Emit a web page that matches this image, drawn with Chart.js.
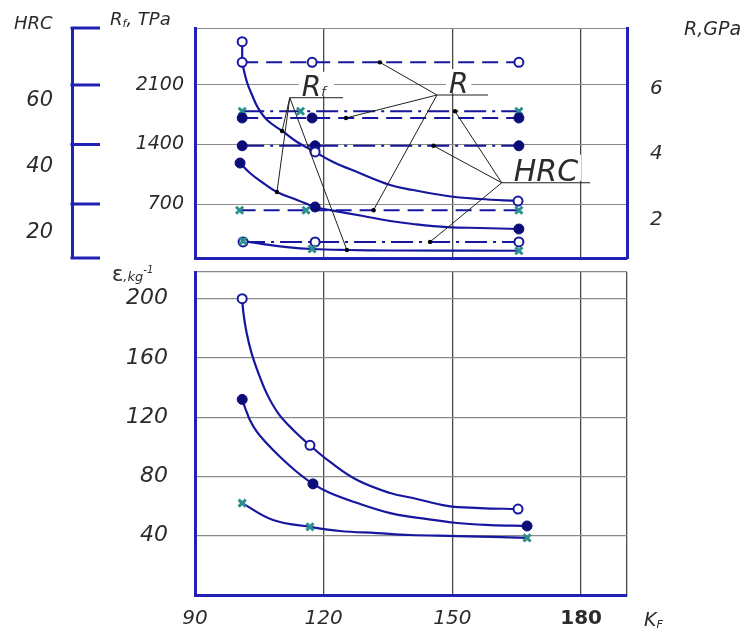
<!DOCTYPE html>
<html>
<head>
<meta charset="utf-8">
<script src="https://cdn.jsdelivr.net/npm/chart.js@4.4.1/dist/chart.umd.min.js"></script>
<style>
  html, body { margin: 0; padding: 0; background: #fff; }
  #wrap { position: relative; width: 750px; height: 630px; font-family: 'DejaVu Sans', sans-serif; font-style: italic; color: #2b2b2b; }
  #top { position: absolute; left: 0; top: 0; }
  #bottom { position: absolute; left: 0; top: 262px; }
  .lbl { position: absolute; font-size: 18px; line-height: 1; white-space: nowrap; }
  .lbl sub { font-size: 11px; vertical-align: -2px; }
  .lbl sup { font-size: 10px; vertical-align: 8px; }
</style>
</head>
<body>
<div id="wrap">
  <canvas id="top" width="750" height="262"></canvas>
  <canvas id="bottom" width="750" height="368"></canvas>
  <div class="lbl" style="left:14px;top:14px">HRC</div>
  <div class="lbl" style="left:110px;top:10px">R<sub>f</sub>, TPa</div>
  <div class="lbl" style="left:684px;top:19px;font-size:19px">R,GPa</div>
  <div class="lbl" style="left:112px;top:264px"><span style="font-size:21px;font-style:normal">ε</span><span style="font-size:13px">,kg</span><sup>-1</sup></div>
  <div class="lbl" style="left:644px;top:610px;font-size:19px">K<sub>F</sub></div>
</div>
<script>
// ---- axis ticks ----
const xTicks = [90, 120, 150, 180];
const rfTicks = [700, 1400, 2100];
const hrcTicks = [20, 40, 60];
const rTicks = [2, 4, 6];
const epsTicks = [40, 80, 120, 160, 200];

// ---- upper panel: R, GPa (dashed lines) ----
const rOpenK = [101, 117.3, 165.5];
const rOpen = [6.8, 6.8, 6.8];
const rFilledK = [101, 117.3, 165.5];
const rFilled = [5.1, 5.1, 5.1];
const rCrossK = [100.4, 115.9, 165.5];
const rCross = [2.28, 2.28, 2.28];

// ---- upper panel: HRC (dash-dot lines) ----
const hrcCrossK = [101, 114.6, 165.5];
const hrcCross = [56.8, 56.8, 56.8];
const hrcFilledK = [101, 118, 165.5];
const hrcFilled = [46.3, 46.3, 46.3];
const hrcOpenK = [101.2, 118, 165.5];
const hrcOpen = [17.1, 17.1, 17.1];

// ---- upper panel: Rf, TPa (curves) ----
const rfOpenPtK = [101, 118, 165.3];
const rfOpenPt = [2609, 1312, 735];
const rfOpenK = [101, 102.1, 103.3, 104.7, 106.8, 110.3, 113.8, 118, 122.2, 127.8, 135.5, 140.8, 148.8, 156.4, 165.3];
const rfOpen = [2359, 2135, 1982, 1829, 1688, 1559, 1429, 1312, 1194, 1076, 924, 865, 794, 759, 735];
const rfFilledPtK = [100.5, 118, 165.5];
const rfFilledPt = [1182, 665, 406];
const rfFilledK = [100.5, 102.8, 105.9, 109.1, 113.8, 118, 121.5, 129.2, 135.5, 140.8, 148.8, 156.4, 165.5];
const rfFilled = [1182, 1065, 947, 841, 747, 665, 629, 559, 500, 465, 429, 418, 406];
const rfCrossPtK = [101.2, 117.3, 165.5];
const rfCrossPt = [265, 171, 150];
const rfCrossK = [101.2, 105.9, 111.4, 117.3, 125.4, 135.5, 165.5];
const rfCross = [265, 229, 194, 171, 159, 153, 150];

// ---- lower panel: epsilon, kg^-1 ----
const epsOpenPtK = [101, 116.8, 165.3];
const epsOpenPt = [200, 101, 58];
const epsOpenK = [101, 101.3, 102.05, 103.2, 104.8, 106.7, 109.4, 112.9, 116.8, 121.5, 127.8, 135.5, 140.8, 148.8, 156.4, 165.3];
const epsOpen = [200, 190, 176.6, 163.1, 149.6, 136.1, 122.6, 111.4, 101, 89.8, 77.6, 68.8, 65.5, 60.1, 58.7, 58];
const epsFilledPtK = [101, 117.5, 167.4];
const epsFilledPt = [132, 75, 46.6];
const epsFilledK = [101, 101.7, 102.8, 104.4, 106.7, 109.8, 113.7, 117.5, 121.5, 127.8, 135.5, 140.8, 151.1, 158.8, 167.4];
const epsFilled = [132, 126.2, 118.1, 110.2, 102.4, 93.3, 83.2, 75, 68.8, 62.1, 55.3, 52.6, 48.6, 47.2, 46.6];
const epsCrossPtK = [101, 116.8, 167.4];
const epsCrossPt = [62, 46, 38.5];
const epsCrossK = [101, 108.2, 116.8, 123.8, 132.4, 140.1, 151.1, 167.4];
const epsCross = [62, 50.6, 46, 43.2, 41.8, 40.5, 39.8, 38.5];

// call-outs: underline start (K, Rf), its length in K, and where the leaders end
const callouts = [
  { text: 'R', sub: 'f', at: [112.1, 1950], span: 12.4, size: 28,
    ends: [['rf', 110.3, 1559], ['rf', 109.1, 841], ['rf', 125.4, 159]] },
  { text: 'R', at: [146.4, 1982], span: 11.9, size: 28,
    ends: [['rgpa', 133.1, 6.8], ['rgpa', 125.2, 5.1], ['rgpa', 131.6, 2.28]] },
  { text: 'HRC', at: [161.5, 950], span: 20.6, size: 30,
    ends: [['hrc', 150.6, 56.8], ['hrc', 145.6, 46.3], ['hrc', 144.8, 17.1]] }
];

const XMAX = 190.7;
const RF_MIN = 65, RF_MAX = 2770;
const HRC_MIN = 12.2, HRC_MAX = 82.1;
const R_MIN = 0.82, R_MAX = 7.85;
const EPS_MAX = 218;

const BLUE = '#2020b4';
const NAVY = '#16169e';
const DARK = '#0c0c78';
const TEAL = '#2b8f8f';
const GRID_V = '#4a4a4a';
const GRID_H = '#8a8a8a';
const TEXT = '#2b2b2b';
const FONT = "'DejaVu Sans', 'Liberation Sans', sans-serif";
const DASH = [16, 8];
const DASHDOT = [22, 6, 3, 6];

Chart.defaults.font.family = FONT;
Chart.defaults.color = TEXT;

function pts(xs, ys) {
    return xs.map((x, i) => ({ x: x, y: ys[i] }));
}

function markStyle(kind) {
    if (kind === 'open') {
        return { pointStyle: 'circle', pointRadius: 4.5, pointBorderWidth: 2, pointBackgroundColor: '#fff', pointBorderColor: NAVY };
    }
    if (kind === 'filled') {
        return { pointStyle: 'circle', pointRadius: 5, pointBorderWidth: 1, pointBackgroundColor: DARK, pointBorderColor: DARK };
    }
    return { pointStyle: 'crossRot', pointRadius: 5, pointBorderWidth: 3, pointBorderColor: TEAL, pointBackgroundColor: TEAL };
}

function curve(xs, ys, axis) {
    return { data: pts(xs, ys), yAxisID: axis, borderColor: NAVY, borderWidth: 2.2, pointRadius: 0,
             tension: 0.4, fill: false, order: 2 };
}

function marks(xs, ys, axis, kind) {
    return Object.assign(markStyle(kind), { data: pts(xs, ys), yAxisID: axis, showLine: false, order: 0 });
}

function level(xs, ys, axis, dash, kind) {
    return Object.assign(markStyle(kind), { data: pts(xs, ys), yAxisID: axis, borderColor: NAVY, borderWidth: 2,
             borderDash: dash, tension: 0, fill: false, order: 1 });
}

function fixed(prop, val) {
    return s => {
        s[prop] = val;
        s.paddingTop = 0; s.paddingBottom = 0; s.paddingLeft = 0; s.paddingRight = 0;
    };
}

function tickList(list) {
    return s => { s.ticks = list.map(v => ({ value: v })); };
}

function onlyLabels(list) {
    return v => list.includes(v) ? String(v) : '';
}

// bracket ticks of the HRC axis and the R / Rf / HRC call-outs
const extras = {
    id: 'extras',
    afterDatasetsDraw(chart) {
        const { ctx, scales } = chart;
        const hrc = scales.hrc, rf = scales.rf, x = scales.x;
        ctx.save();
        ctx.strokeStyle = BLUE;
        ctx.lineWidth = 3;
        [RF_MIN].concat(rfTicks, [RF_MAX]).forEach(v => {
            const y = rf.getPixelForValue(v);
            ctx.beginPath();
            ctx.moveTo(hrc.right - 1.5, y);
            ctx.lineTo(hrc.right + 28, y);
            ctx.stroke();
        });

        callouts.forEach(c => {
            const ax = x.getPixelForValue(c.at[0]);
            const ay = rf.getPixelForValue(c.at[1]);
            const ex = x.getPixelForValue(c.at[0] + c.span);
            ctx.font = 'italic ' + c.size + 'px ' + FONT;
            const w = ctx.measureText(c.text).width + (c.sub ? 10 : 0);
            ctx.fillStyle = '#fff';
            ctx.fillRect(ax + 9, ay - c.size + 2, w + 6, c.size - 4);

            ctx.strokeStyle = '#1e1e1e';
            ctx.lineWidth = 1;
            ctx.beginPath();
            ctx.moveTo(ax, ay);
            ctx.lineTo(ex, ay);
            c.ends.forEach(e => {
                ctx.moveTo(ax, ay);
                ctx.lineTo(x.getPixelForValue(e[1]), scales[e[0]].getPixelForValue(e[2]));
            });
            ctx.stroke();
            ctx.fillStyle = '#000';
            c.ends.forEach(e => {
                ctx.beginPath();
                ctx.arc(x.getPixelForValue(e[1]), scales[e[0]].getPixelForValue(e[2]), 2.2, 0, Math.PI * 2);
                ctx.fill();
            });

            ctx.fillStyle = TEXT;
            ctx.textBaseline = 'alphabetic';
            ctx.textAlign = 'left';
            ctx.fillText(c.text, ax + 12, ay - 2);
            if (c.sub) {
                const tw = ctx.measureText(c.text).width;
                ctx.font = 'italic 13px ' + FONT;
                ctx.fillText(c.sub, ax + 12 + tw, ay - 2);
            }
        });
        ctx.restore();
    }
};

const italic = size => ({ family: FONT, size: size, style: 'italic' });

new Chart(document.getElementById('top'), {
    type: 'line',
    data: {
        datasets: [
            marks(rfOpenPtK, rfOpenPt, 'rf', 'open'),
            marks(rfFilledPtK, rfFilledPt, 'rf', 'filled'),
            marks(rfCrossPtK, rfCrossPt, 'rf', 'cross'),
            level(rOpenK, rOpen, 'rgpa', DASH, 'open'),
            level(rFilledK, rFilled, 'rgpa', DASH, 'filled'),
            level(rCrossK, rCross, 'rgpa', DASH, 'cross'),
            level(hrcCrossK, hrcCross, 'hrc', DASHDOT, 'cross'),
            level(hrcFilledK, hrcFilled, 'hrc', DASHDOT, 'filled'),
            level(hrcOpenK, hrcOpen, 'hrc', DASHDOT, 'open'),
            curve(rfOpenK, rfOpen, 'rf'),
            curve([rfOpenPtK[0], rfOpenK[0]], [rfOpenPt[0], rfOpen[0]], 'rf'),
            curve(rfFilledK, rfFilled, 'rf'),
            curve(rfCrossK, rfCross, 'rf')
        ]
    },
    options: {
        responsive: false,
        animation: false,
        events: [],
        layout: { autoPadding: false, padding: { top: 28, bottom: 4, left: 0, right: 0 } },
        plugins: { legend: { display: false }, tooltip: { enabled: false } },
        scales: {
            x: {
                type: 'linear', position: 'bottom', min: 90, max: XMAX,
                afterBuildTicks: tickList(xTicks.concat([XMAX])),
                ticks: { display: false },
                grid: { color: GRID_V, lineWidth: 1.3, drawTicks: false },
                border: { color: BLUE, width: 3 },
                afterFit: fixed('height', 0)
            },
            rf: {
                type: 'linear', axis: 'y', position: 'left', weight: 0, min: RF_MIN, max: RF_MAX,
                afterBuildTicks: tickList([RF_MIN].concat(rfTicks, [RF_MAX])),
                ticks: { callback: onlyLabels(rfTicks), font: italic(19), color: TEXT, padding: 11 },
                grid: { color: GRID_H, lineWidth: 1, drawTicks: false },
                border: { color: BLUE, width: 3 },
                afterFit: fixed('width', 123)
            },
            hrc: {
                type: 'linear', axis: 'y', position: 'left', weight: 1, min: HRC_MIN, max: HRC_MAX,
                afterBuildTicks: tickList(hrcTicks),
                ticks: { callback: onlyLabels(hrcTicks), font: italic(21), color: TEXT, padding: 19 },
                grid: { drawOnChartArea: false, drawTicks: false },
                border: { color: BLUE, width: 3 },
                afterFit: fixed('width', 72)
            },
            rgpa: {
                type: 'linear', axis: 'y', position: 'right', min: R_MIN, max: R_MAX,
                afterBuildTicks: tickList(rTicks),
                ticks: { callback: onlyLabels(rTicks), font: italic(20), color: TEXT, padding: 23 },
                grid: { drawOnChartArea: false, drawTicks: false },
                border: { color: BLUE, width: 3 },
                afterFit: fixed('width', 123)
            }
        }
    },
    plugins: [extras]
});

new Chart(document.getElementById('bottom'), {
    type: 'line',
    data: {
        datasets: [
            marks(epsOpenPtK, epsOpenPt, 'eps', 'open'),
            marks(epsFilledPtK, epsFilledPt, 'eps', 'filled'),
            marks(epsCrossPtK, epsCrossPt, 'eps', 'cross'),
            curve(epsOpenK, epsOpen, 'eps'),
            curve(epsFilledK, epsFilled, 'eps'),
            curve(epsCrossK, epsCross, 'eps')
        ]
    },
    options: {
        responsive: false,
        animation: false,
        events: [],
        layout: { autoPadding: false, padding: { top: 10, bottom: 0, left: 0, right: 123 } },
        plugins: { legend: { display: false }, tooltip: { enabled: false } },
        scales: {
            x: {
                type: 'linear', position: 'bottom', min: 90, max: XMAX,
                afterBuildTicks: tickList(xTicks.concat([XMAX])),
                ticks: {
                    callback: onlyLabels(xTicks), color: TEXT, padding: 12, maxRotation: 0, autoSkip: false,
                    font: ctx => (ctx.tick && ctx.tick.value === 180)
                        ? { family: FONT, size: 20, weight: 'bold', style: 'normal' }
                        : italic(20)
                },
                grid: { color: GRID_V, lineWidth: 1.3, drawTicks: false },
                border: { color: BLUE, width: 3 },
                afterFit: fixed('height', 35)
            },
            eps: {
                type: 'linear', axis: 'y', position: 'left', min: 0, max: EPS_MAX,
                afterBuildTicks: tickList([0].concat(epsTicks, [EPS_MAX])),
                ticks: { callback: onlyLabels(epsTicks), font: italic(22), color: TEXT, padding: 27 },
                grid: { color: GRID_H, lineWidth: 1.2, drawTicks: false },
                border: { color: BLUE, width: 3 },
                afterFit: fixed('width', 195)
            }
        }
    }
});
</script>
</body>
</html>
